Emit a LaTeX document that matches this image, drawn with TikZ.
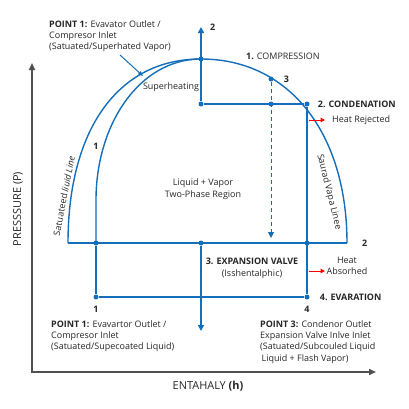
\documentclass[tikz,border=0pt]{standalone}
\usepackage{fontspec}
\setmainfont{Open Sans}
\usepackage{tikz}
\usetikzlibrary{arrows.meta, positioning}

\definecolor{cycleblue}{RGB}{20,110,186}
\definecolor{axisgray}{RGB}{80,80,80}

\begin{document}
\begin{tikzpicture}[x=1bp, y=-1bp,
    line/.style={draw=cycleblue, line width=1.4bp},
    flow/.style={line, -{Triangle[length=6bp, width=6bp]}},
    heat/.style={draw=red, line width=1bp, -{Triangle[length=4.5bp, width=4.5bp]}},
    axis/.style={draw=axisgray, line width=1.6bp,
                 {Triangle[length=7bp, width=6bp]}-{Triangle[length=7bp, width=6bp]}},
    dot/.style={circle, fill=cycleblue, inner sep=0pt, minimum size=5bp},
    lab/.style={font=\fontsize{9}{11.5}\selectfont, inner sep=0pt, text=black!85},
    num/.style={lab, font=\fontsize{9}{11.5}\selectfont\bfseries},
    note/.style={lab, align=left, anchor=north west},
    axlab/.style={inner sep=0pt, text=black!85, font=\fontsize{11}{13}\selectfont},
    node distance=6bp]
  \useasboundingbox (0,0) rectangle (409,409);

  \coordinate (pend) at (32,63);
  \coordinate (origin) at (32,372);
  \coordinate (hend) at (376,372);
  \coordinate (domeL) at (68,243);
  \coordinate (domeR) at (347,243);
  \coordinate (bend) at (96,200);
  \coordinate (up) at (201,27);
  \coordinate (down) at (201,331);
  \coordinate (drop) at (271,238);
  \coordinate (ptr) at (120,55);
  \coordinate (ptrEnd) at (143,76);
  \coordinate (hr1) at (309,120);
  \coordinate (hr2) at (325,120);
  \coordinate (ha1) at (309,271);
  \coordinate (ha2) at (325,271);

  \node[dot] (top) at (201,59) {};
  \node[dot] (sh) at (201,104) {};
  \node[dot] (cond) at (307,104) {};
  \node[dot] (p3) at (271,79) {};
  \node[dot] (p3b) at (271,104) {};
  \node[dot] (l1) at (96,243) {};
  \node[dot] (mid) at (201,243) {};
  \node[dot] (r4) at (307,243) {};
  \node[dot] (e1) at (96,297) {};
  \node[dot] (e4) at (307,297) {};

  \draw[axis] (pend) -- (origin) -- (hend);
  \draw[line] (domeL) .. controls +(0,-112) and +(-84,0) .. (top.center)
    .. controls +(88,0) and +(0,-110) .. (domeR);
  \draw[line] (l1.center) -- (bend) .. controls +(0,-75) and +(-62,0) .. (top.center);
  \draw[flow] (sh) -- (up);
  \draw[line] (sh) -- (cond);
  \draw[line] (cond) -- (e4);
  \draw[line] (domeL) -- (domeR);
  \draw[line] (l1) -- (e1);
  \draw[line] (e1) -- (e4);
  \draw[flow] (mid) -- (down);
  \draw[flow, line width=1bp, dash pattern=on 4bp off 3bp] (p3) -- (drop);
  \draw[draw=cycleblue, line width=1bp, -{Triangle[length=5bp, width=4bp]}] (ptr) -- (ptrEnd);
  \draw[heat] (hr1) -- (hr2);
  \draw[heat] (ha1) -- (ha2);

  \node[note] (pt1) at (49,20) {\textbf{POINT 1:} Evavator Outlet /\\Compresor Inlet\\(Satuated/Superhated Vapor)};
  \node[lab] (shlab) at (171,87) {Superheating};
  \node[lab, anchor=west] (comp) at (246,56) {\textbf{1.} COMPRESSION};
  \node[num, right=10bp of p3] (n3) {3};
  \node[num, right=9bp of up] (n2top) {2};
  \node[num, right=8bp of cond] (condlab) {2. CONDENATION};
  \node[lab, right=7bp of hr2] (rej) {Heat Rejected};
  \node[num] (n1) at (96,146) {1};
  \node[lab, align=center] (region) at (203,189) {Liquid + Vapor\\Two-Phase Region};
  \node[lab, rotate=79] (liq) at (64,196) {Satuateed \textit{liuid Line}};
  \node[lab, rotate=-76] (vap) at (329,192) {Saurad Vapa Linee};
  \node[num, right=15bp of domeR] (n2) {2};
  \node[lab, align=center, anchor=north] (valve) at (252,258) {\textbf{3. EXPANSION VALVE}\\(Isshentalphic)};
  \node[lab, align=center] (abs) at (347,266) {Heat\\Absorhed};
  \node[num, right=10bp of e4] (evap) {4. EVARATION};
  \node[num, below=6bp of e4] (n4) {4};
  \node[num, below=6bp of e1] (n1b) {1};
  \node[note] (pt1b) at (51,320) {\textbf{POINT 1:} Evavartor Outlet /\\Compresor Inlet\\(Satuated/Supecoated Liquid)};
  \node[note] (pt3) at (260,320) {\textbf{POINT 3:} Condenor Outlet\\Expansion Valve Inlve Inlet\\(Satuated/Subcouled Liquid\\\hspace*{1.5bp}Liquid + Flash Vapor)};
  \node[axlab] (hlab) at (208,386) {ENTAHALY \textbf{(h)}};
  \node[axlab, rotate=90] (plab) at (18,209) {PRESSSURE (P)};
\end{tikzpicture}
\end{document}
